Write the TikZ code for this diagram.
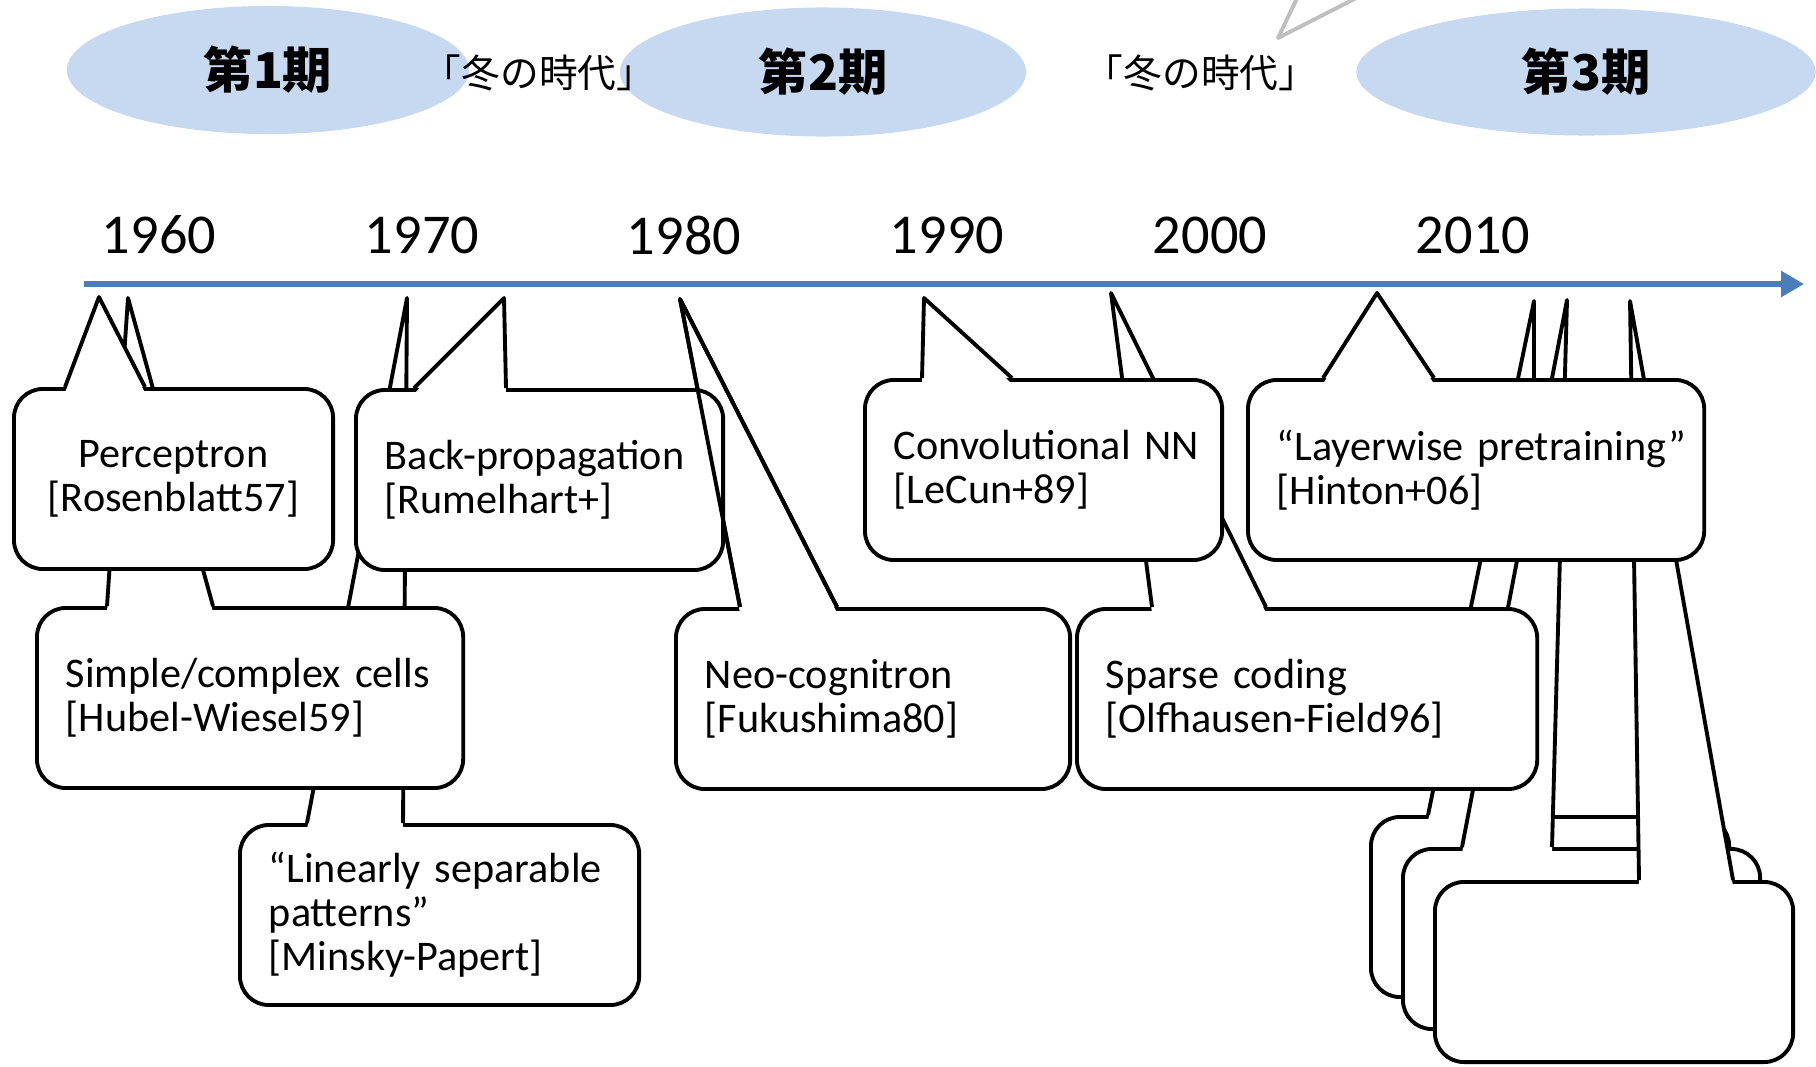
\documentclass[tikz,border=0pt]{standalone}
\usepackage{fontspec}
\setmainfont{Carlito}
\newfontfamily\cjk{Noto Sans CJK JP}
\usepackage{xcolor}
\usepackage{tikz}
\usetikzlibrary{shapes.geometric, arrows.meta, calc}

\definecolor{eraBlue}{RGB}{198,217,240}
\definecolor{axisBlue}{RGB}{74,126,187}
\definecolor{calloutGray}{RGB}{191,191,191}

\begin{document}
\begin{tikzpicture}[
    x=0.01cm, y=-0.01cm,
    era/.style={ellipse, fill=eraBlue, inner sep=0pt, font=\cjk\bfseries\fontsize{14}{16}\selectfont},
    winter/.style={inner sep=0pt, font=\cjk\fontsize{11}{13}\selectfont},
    year/.style={inner sep=0pt, font=\fontsize{16}{19}\selectfont},
    timeline/.style={draw=axisBlue, line width=0.065cm, -{Triangle[length=0.23cm, width=0.25cm]}},
    cbox/.style={draw, fill=white, line width=1.1pt, rounded corners=0.29cm, anchor=north west,
        minimum height=1.8cm, inner xsep=0.29cm, inner ysep=0pt, align=left,
        font=\fontsize{12}{12.5}\selectfont},
    ptr/.style={draw, line width=1.1pt, line join=round},
    gap/.style={fill=white}
]
\useasboundingbox (0,0) rectangle (1816,1066);
\clip (0,0) rectangle (1816,1066);

% Eras
\node[era, minimum width=4.02cm, minimum height=1.28cm] (era1) at (268,70) {第1期};
\node[era, minimum width=4.06cm, minimum height=1.29cm] (era2) at (823,72) {第2期};
\node[era, minimum width=4.59cm, minimum height=1.27cm] (era3) at (1586,72) {第3期};
\node[winter] (winter1) at (539,73) {「冬の時代」};
\node[winter] (winter2) at (1201,73) {「冬の時代」};

% pointer of a callout above the picture
\coordinate (gtip) at (1278,38);
\draw[calloutGray, line width=1.1pt, line join=round] (1299,-6) -- (gtip) -- (1364,-6);

% Timeline
\node[year] (y1960) at (159,235) {1960};
\node[year] (y1970) at (422,235) {1970};
\node[year] (y1980) at (684,235) {1980};
\node[year] (y1990) at (947,235) {1990};
\node[year] (y2000) at (1210,235) {2000};
\node[year] (y2010) at (1473,235) {2010};
\coordinate (tl0) at (84,284);
\coordinate (tl1) at (1804,284);
\draw[timeline] (tl0) -- (tl1);

% Pointer tips
\coordinate (tperc) at (99,297);
\coordinate (tsimp) at (128,298);
\coordinate (tmins) at (407,298);
\coordinate (tback) at (504,298);
\coordinate (tneo) at (680,299);
\coordinate (tconv) at (924,298);
\coordinate (tspar) at (1111,293);
\coordinate (tlayr) at (1377,293);
\coordinate (tboxa) at (1534,301);
\coordinate (tboxb) at (1567,300);
\coordinate (tboxc) at (1630,301);

% Callouts, back to front
\node[cbox, text width=3.41cm] (mins) at (238,823) {\mbox{“Linearly separable}\\patterns”\\\mbox{[Minsky-Papert]}};
\fill[gap] ($(mins.north west)+(69,6)$) -- (tmins) -- ($(mins.north west)+(165,6)$) -- cycle;
\draw[ptr] ($(mins.north west)+(69,0)$) -- (tmins) -- ($(mins.north west)+(165,0)$);

\node[cbox, text width=3.68cm] (simp) at (35,606) {\mbox{Simple/complex cells}\\\mbox{[Hubel-Wiesel59]}};
\fill[gap] ($(simp.north west)+(72,6)$) -- (tsimp) -- ($(simp.north west)+(178,6)$) -- cycle;
\draw[ptr] ($(simp.north west)+(72,0)$) -- (tsimp) -- ($(simp.north west)+(178,0)$);

\node[cbox, text width=2.61cm, align=center] (perc) at (12,387) {Perceptron\\\mbox{[Rosenblatt57]}};
\fill[gap] ($(perc.north west)+(53,6)$) -- (tperc) -- ($(perc.north west)+(133,6)$) -- cycle;
\draw[ptr] ($(perc.north west)+(53,0)$) -- (tperc) -- ($(perc.north west)+(133,0)$);

\node[cbox, text width=3.36cm] (neo) at (674,607) {\mbox{Neo-cognitron}\\\mbox{[Fukushima80]}};
\fill[gap] ($(neo.north west)+(66,6)$) -- (tneo) -- ($(neo.north west)+(163,6)$) -- cycle;
\draw[ptr] ($(neo.north west)+(66,0)$) -- (tneo) -- ($(neo.north west)+(163,0)$);

\node[cbox, text width=3.09cm] (back) at (354,388) {\mbox{Back-propagation}\\\mbox{[Rumelhart+]}};
\fill[gap] ($(back.north west)+(60,6)$) -- (tback) -- ($(back.north west)+(152,6)$) -- cycle;
\draw[ptr] ($(back.north west)+(60,0)$) -- (tback) -- ($(back.north west)+(152,0)$);
% neo-cognitron pointer shows through
\draw[ptr] ($(neo.north west)+(66,0)$) -- (tneo) -- ($(neo.north west)+(163,0)$);

\node[cbox, text width=3.00cm] (boxa) at (1369,815) {};
\fill[gap] ($(boxa.north west)+(59,6)$) -- (tboxa) -- ($(boxa.north west)+(165,6)$) -- cycle;
\draw[ptr] ($(boxa.north west)+(59,0)$) -- (tboxa) -- ($(boxa.north west)+(165,0)$);

\node[cbox, text width=2.99cm] (boxb) at (1401,847) {};
\fill[gap] ($(boxb.north west)+(61,6)$) -- (tboxb) -- ($(boxb.north west)+(151,6)$) -- cycle;
\draw[ptr] ($(boxb.north west)+(61,0)$) -- (tboxb) -- ($(boxb.north west)+(151,0)$);

\node[cbox, text width=3.00cm] (boxc) at (1433,880) {};
\fill[gap] ($(boxc.north west)+(206,6)$) -- (tboxc) -- ($(boxc.north west)+(300,6)$) -- cycle;
\draw[ptr] ($(boxc.north west)+(206,0)$) -- (tboxc) -- ($(boxc.north west)+(300,0)$);

\node[cbox, text width=4.02cm] (spar) at (1075,607) {\mbox{Sparse coding}\\\mbox{[Olfhausen-Field96]}};
\fill[gap] ($(spar.north west)+(77,6)$) -- (tspar) -- ($(spar.north west)+(191,6)$) -- cycle;
\draw[ptr] ($(spar.north west)+(77,0)$) -- (tspar) -- ($(spar.north west)+(191,0)$);

\node[cbox, text width=2.99cm] (conv) at (863,378) {\mbox{Convolutional NN}\\\mbox{[LeCun+89]}};
\fill[gap] ($(conv.north west)+(59,6)$) -- (tconv) -- ($(conv.north west)+(149,6)$) -- cycle;
\draw[ptr] ($(conv.north west)+(59,0)$) -- (tconv) -- ($(conv.north west)+(149,0)$);

\node[cbox, text width=3.98cm] (layr) at (1246,378) {\mbox{“Layerwise pretraining”}\\\mbox{[Hinton+06]}};
\fill[gap] ($(layr.north west)+(77,6)$) -- (tlayr) -- ($(layr.north west)+(188,6)$) -- cycle;
\draw[ptr] ($(layr.north west)+(77,0)$) -- (tlayr) -- ($(layr.north west)+(188,0)$);

\end{tikzpicture}
\end{document}
